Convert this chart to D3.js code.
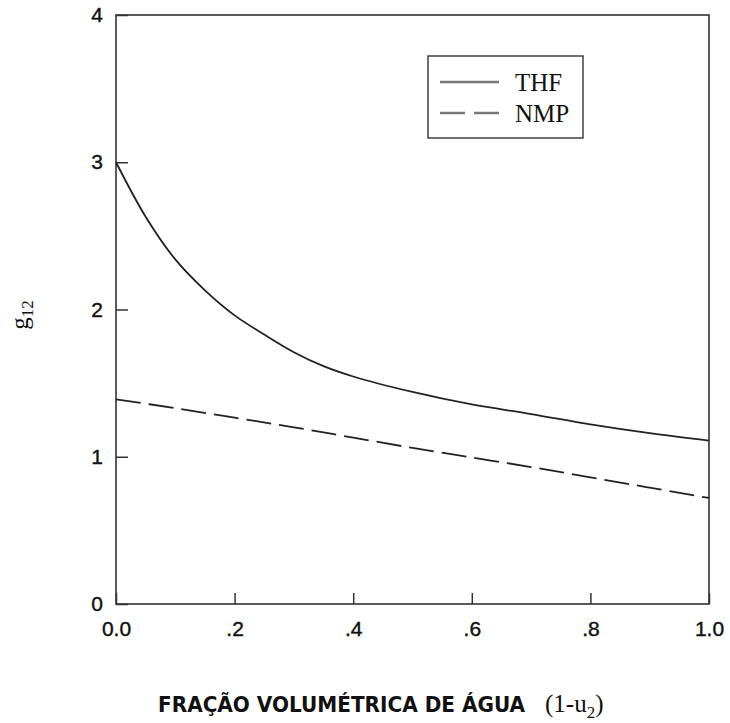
<!DOCTYPE html>
<html>
<head>
<meta charset="utf-8">
<script src="https://cdn.jsdelivr.net/npm/d3@7"></script>
<style>
  body { margin: 0; background: #fff; }
  svg { display: block; }
</style>
</head>
<body>
<svg width="730" height="723"></svg>
<script>
const svg = d3.select('svg')

// data
const fraction = [0, .05, .1, .15, .2, .25, .3, .35, .4, .5, .6, .7, .8, .9, 1.0]
const thf = [3.0, 2.63, 2.34, 2.13, 1.96, 1.83, 1.71, 1.615, 1.545, 1.44, 1.355, 1.29, 1.22, 1.16, 1.11]
const nmpX = [0, .1, .2, .3, .4, .5, .6, .7, .8, .9, 1.0]
const nmp = [1.39, 1.33, 1.265, 1.2, 1.13, 1.06, 0.995, 0.93, 0.86, 0.79, 0.72]
const xTicks = [0, .2, .4, .6, .8, 1]
const xTickLabels = ['0.0', '.2', '.4', '.6', '.8', '1.0']
const yTicks = [0, 1, 2, 3, 4]
const seriesNames = ['THF', 'NMP']

const plot = {left: 116, right: 709, top: 15, bottom: 604}
const x = d3.scaleLinear().domain([0, 1]).range([plot.left, plot.right])
const y = d3.scaleLinear().domain([0, 4]).range([plot.bottom, plot.top])
const ink = '#222'

// frame
svg.append('rect')
  .attr('x', plot.left).attr('y', plot.top)
  .attr('width', plot.right - plot.left).attr('height', plot.bottom - plot.top)
  .attr('fill', 'none').attr('stroke', '#333').attr('stroke-width', 1.6)

const xAxis = svg.append('g')
  .attr('transform', `translate(0,${plot.bottom})`)
  .call(d3.axisBottom(x).tickValues(xTicks)
    .tickFormat((d, i) => xTickLabels[i])
    .tickSizeInner(-11).tickSizeOuter(0).tickPadding(17))
const yAxis = svg.append('g')
  .attr('transform', `translate(${plot.left},0)`)
  .call(d3.axisLeft(y).tickValues(yTicks)
    .tickFormat(d3.format('d'))
    .tickSizeInner(-12).tickSizeOuter(0).tickPadding(13))

for (const g of [xAxis, yAxis]) {
  g.select('.domain').remove()
  g.selectAll('line').attr('stroke', '#333').attr('stroke-width', 1.5)
  g.selectAll('text')
    .attr('fill', '#111').attr('stroke', '#111').attr('stroke-width', 0.4)
    .style('font-family', '"Liberation Sans", Arial, sans-serif')
    .style('font-size', '21px')
}

// curves
const line = d3.line().curve(d3.curveCatmullRom.alpha(0.5))
svg.append('path')
  .attr('d', line(fraction.map((f, i) => [x(f), y(thf[i])])))
  .attr('fill', 'none').attr('stroke', ink).attr('stroke-width', 1.8)
svg.append('path')
  .attr('d', line(nmpX.map((f, i) => [x(f), y(nmp[i])])))
  .attr('fill', 'none').attr('stroke', ink).attr('stroke-width', 1.8)
  .attr('stroke-dasharray', '25,8')

// legend
const legend = svg.append('g')
legend.append('rect')
  .attr('x', 428).attr('y', 56).attr('width', 155).attr('height', 82)
  .attr('fill', '#fff').attr('stroke', '#333').attr('stroke-width', 1.4)
seriesNames.forEach((name, i) => {
  const ly = 82 + i * 31
  legend.append('line')
    .attr('x1', 440).attr('x2', 499).attr('y1', ly).attr('y2', ly)
    .attr('stroke', '#777').attr('stroke-width', 2.5)
    .attr('stroke-dasharray', i ? '25,9' : null)
  legend.append('text')
    .attr('x', 515).attr('y', ly + 9)
    .style('font-family', '"Liberation Serif", "Times New Roman", serif')
    .style('font-size', '25px').attr('fill', '#111')
    .text(name)
})

// y title g12
const yt = svg.append('text')
  .attr('transform', 'translate(28,315) rotate(-90)')
  .attr('text-anchor', 'middle')
  .style('font-family', '"Liberation Serif", "Times New Roman", serif')
  .style('font-size', '25px').attr('fill', '#111')
yt.append('tspan').text('g')
yt.append('tspan').attr('dy', 5).style('font-size', '17px').text('12')

// x title
svg.append('text')
  .attr('x', 158).attr('y', 712)
  .attr('textLength', 367).attr('lengthAdjust', 'spacingAndGlyphs')
  .style('font-family', '"DejaVu Sans Condensed", "DejaVu Sans", sans-serif')
  .style('font-weight', 'bold').style('font-size', '22px').attr('fill', '#111')
  .text('FRAÇÃO VOLUMÉTRICA DE ÁGUA')
const xt = svg.append('text')
  .attr('x', 545).attr('y', 712)
  .style('font-family', '"Liberation Serif", "Times New Roman", serif')
  .style('font-size', '25px').attr('fill', '#111')
xt.append('tspan').text('(1-u')
xt.append('tspan').attr('dy', 6).style('font-size', '17px').text('2')
xt.append('tspan').attr('dy', -6).text(')')
</script>
</body>
</html>
